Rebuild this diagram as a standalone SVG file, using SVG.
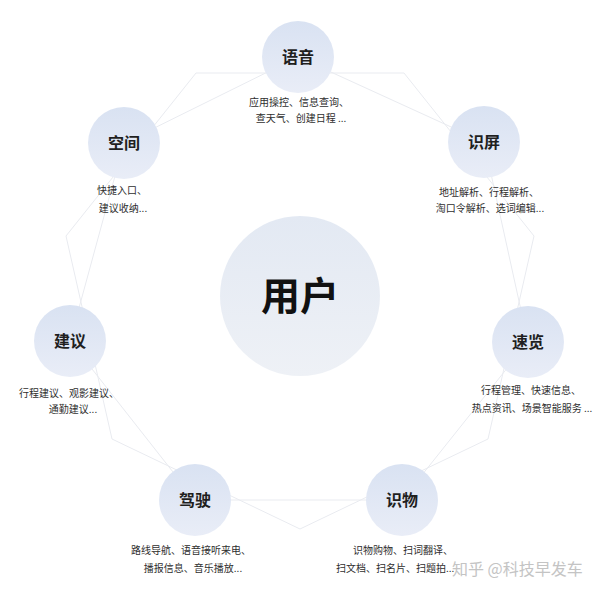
<svg xmlns="http://www.w3.org/2000/svg" width="600" height="592" viewBox="0 0 600 592">
<defs>
<linearGradient id="gOuter" x1="0" y1="0" x2="0" y2="1">
<stop offset="0" stop-color="#d9e2f2"/>
<stop offset="1" stop-color="#e9edf7"/>
</linearGradient>
<linearGradient id="gCenter" x1="0" y1="0" x2="0" y2="1">
<stop offset="0" stop-color="#e3e9f3"/>
<stop offset="1" stop-color="#eef1f6"/>
</linearGradient>
</defs>
<style>
.bg{fill:#ffffff}
.edge{fill:none;stroke:#e9ebf0;stroke-width:1}
.node{fill:url(#gOuter)}
.center{fill:url(#gCenter)}
.title{font-family:"Noto Sans CJK SC","Noto Sans",sans-serif;font-size:16px;font-weight:bold;fill:#1f1f1f;text-anchor:middle}
.big{font-family:"Noto Sans CJK SC","Noto Sans",sans-serif;font-size:39px;font-weight:bold;fill:#111111;text-anchor:middle}
.desc{font-family:"Noto Sans CJK SC","Noto Sans",sans-serif;font-size:10px;fill:#2e2e2e;text-anchor:middle}
.wm{font-family:"Noto Sans CJK SC","Noto Sans",sans-serif;font-size:16px;fill:#c4c4c4}
</style>
<rect class="bg" x="0" y="0" width="600" height="592"/>
<g id="connectors">
<polygon class="edge" points="298,57 484,142 528,342 402,500 195,500 70,341 124,143"/>
<polygon class="edge" points="404,73 534,236 488,439 300,529 112,439 66,236 196,73"/>
</g>
<g id="node-yonghu">
<circle class="center" cx="300" cy="296" r="80"/>
<text class="big" x="300" y="310">用户</text>
</g>
<g id="node-yuyin">
<circle class="node" cx="298" cy="57" r="36"/>
<text class="title" x="298" y="63">语音</text>
<text class="desc" x="299" y="106">应用操控、信息查询、</text>
<text class="desc" x="301" y="122">查天气、创建日程 ...</text>
</g>
<g id="node-shiping">
<circle class="node" cx="484" cy="142" r="36"/>
<text class="title" x="484" y="148">识屏</text>
<text class="desc" x="489" y="196">地址解析、行程解析、</text>
<text class="desc" x="490" y="212">淘口令解析、选词编辑...</text>
</g>
<g id="node-sulan">
<circle class="node" cx="528" cy="342" r="36"/>
<text class="title" x="528" y="348">速览</text>
<text class="desc" x="531" y="394">行程管理、快速信息、</text>
<text class="desc" x="532" y="412">热点资讯、场景智能服务 ...</text>
</g>
<g id="node-shiwu">
<circle class="node" cx="402" cy="500" r="36"/>
<text class="title" x="402" y="506">识物</text>
<text class="desc" x="403" y="554">识物购物、扫词翻译、</text>
<text class="desc" x="336" y="572" style="text-anchor:start">扫文档、扫名片、扫题拍...</text>
</g>
<g id="node-jiashi">
<circle class="node" cx="195" cy="500" r="36"/>
<text class="title" x="195" y="506">驾驶</text>
<text class="desc" x="191" y="554">路线导航、语音接听来电、</text>
<text class="desc" x="193" y="572">播报信息、音乐播放...</text>
</g>
<g id="node-jianyi">
<circle class="node" cx="70" cy="341" r="36"/>
<text class="title" x="70" y="347">建议</text>
<text class="desc" x="69" y="397">行程建议、观影建议、</text>
<text class="desc" x="73" y="413">通勤建议...</text>
</g>
<g id="node-kongjian">
<circle class="node" cx="124" cy="143" r="36"/>
<text class="title" x="124" y="149">空间</text>
<text class="desc" x="122" y="194">快捷入口、</text>
<text class="desc" x="123" y="212">建议收纳...</text>
</g>
<text class="wm" x="452" y="575">知乎 @科技早发车</text>
</svg>
